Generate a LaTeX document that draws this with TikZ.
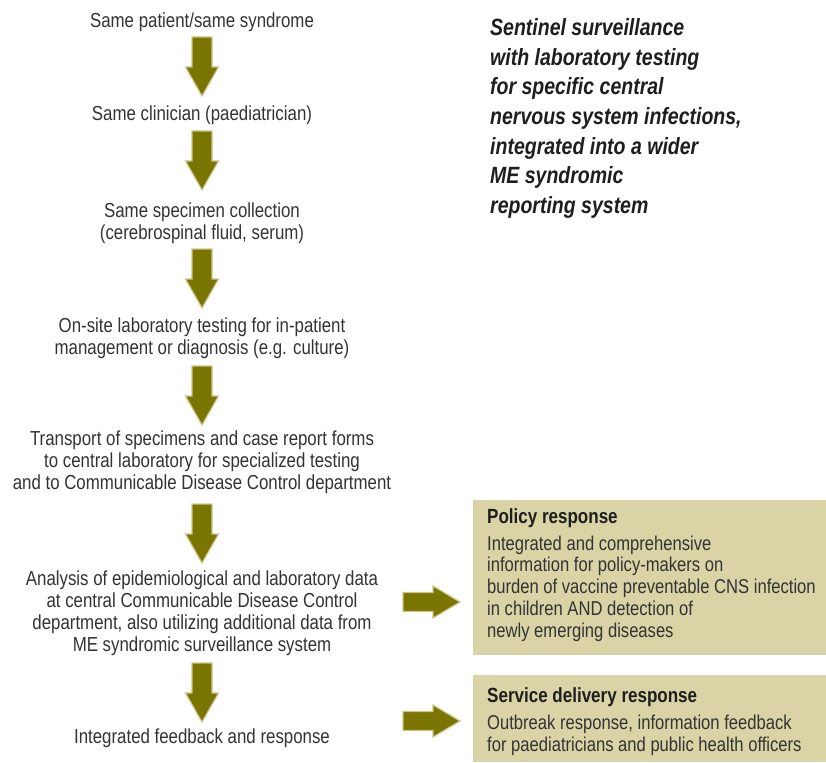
\documentclass[tikz,border=0pt]{standalone}
\usepackage{fontspec}
\setmainfont{Liberation Sans}[FakeStretch=0.83]
\usetikzlibrary{positioning}
\definecolor{arrfill}{RGB}{122,116,0}
\definecolor{arrline}{RGB}{205,198,140}
\definecolor{boxfill}{RGB}{217,211,166}
\definecolor{bodytext}{RGB}{51,51,51}
\definecolor{headtext}{RGB}{30,30,30}
\tikzset{
  steptext/.style={align=center,text=bodytext,inner sep=0pt,
    font=\fontsize{20.3}{22}\selectfont},
  titletext/.style={align=left,anchor=west,text=headtext,inner sep=0pt,
    font=\fontsize{23.5}{29.6}\selectfont\bfseries\itshape},
  boxhead/.style={anchor=west,text=headtext,inner sep=0pt,
    font=\fontsize{20.5}{22}\selectfont\bfseries},
  boxbody/.style={anchor=west,align=left,text=bodytext,inner sep=0pt,
    font=\fontsize{20}{21.75}\selectfont},
  respbox/.style={fill=boxfill,draw=none},
  blockarrow/.style={fill=arrfill,draw=arrline,line width=1.2pt,line join=miter}
}
\newcommand\blockdown[1]{\draw[blockarrow,shift={(#1)}] (-10,0) -- (10,0) -- (10,30) -- (16.5,30) -- (0,59) -- (-16.5,30) -- (-10,30) -- cycle;}
\newcommand\blockright[1]{\draw[blockarrow,shift={(#1)}] (0,-9.5) -- (30,-9.5) -- (30,-16) -- (57,0) -- (30,16) -- (30,9.5) -- (0,9.5) -- cycle;}
\begin{document}
\begin{tikzpicture}[x=1pt,y=-1pt]
\useasboundingbox (0,0) rectangle (826,762);
% left column
\node[steptext] (n1) at (202,22) {Same patient/same syndrome};
\node[steptext] (n2) at (202,115) {Same clinician (paediatrician)};
\node[steptext] (n3) at (202,223) {Same specimen collection\\(cerebrospinal fluid, serum)};
\node[steptext] (n4) at (202,338) {On-site laboratory testing for in-patient\\management or diagnosis (e.g. culture)};
\node[steptext] (n5) at (202,462) {Transport of specimens and case report forms\\to central laboratory for specialized testing\\and to Communicable Disease Control department};
\node[steptext] (n6) at (202,613) {Analysis of epidemiological and laboratory data\\at central Communicable Disease Control\\department, also utilizing additional data from\\ME syndromic surveillance system};
\node[steptext] (n7) at (202,738) {Integrated feedback and response};
% arrows
\coordinate (a1) at (202,37);
\coordinate (a2) at (202,131);
\coordinate (a3) at (202,249);
\coordinate (a4) at (202,366);
\coordinate (a5) at (202,504);
\coordinate (a6) at (202,663);
\foreach \c in {a1,a2,a3,a4,a5,a6} {\blockdown{\c}}
% title
\node[titletext] (title) at (490,118.5) {Sentinel surveillance\\with laboratory testing\\for specific central\\nervous system infections,\\integrated into a wider\\ME syndromic\\reporting system};
% response boxes
\path[respbox] (473,500) rectangle (826,655);
\path[respbox] (473,675) rectangle (826,762);
\node[boxhead] (ph) at (487,518) {Policy response};
\node[boxbody] (pb) at (487,588.5) {Integrated and comprehensive\\information for policy-makers on\\burden of vaccine preventable CNS infection\\in children AND detection of\\newly emerging diseases};
\node[boxhead] (sh) at (487,697) {Service delivery response};
\node[boxbody] (sb) at (487,735) {Outbreak response, information feedback\\for paediatricians and public health officers};
% right arrows
\coordinate (r1) at (403,602);
\coordinate (r2) at (403,721);
\blockright{r1}
\blockright{r2}
\end{tikzpicture}
\end{document}
